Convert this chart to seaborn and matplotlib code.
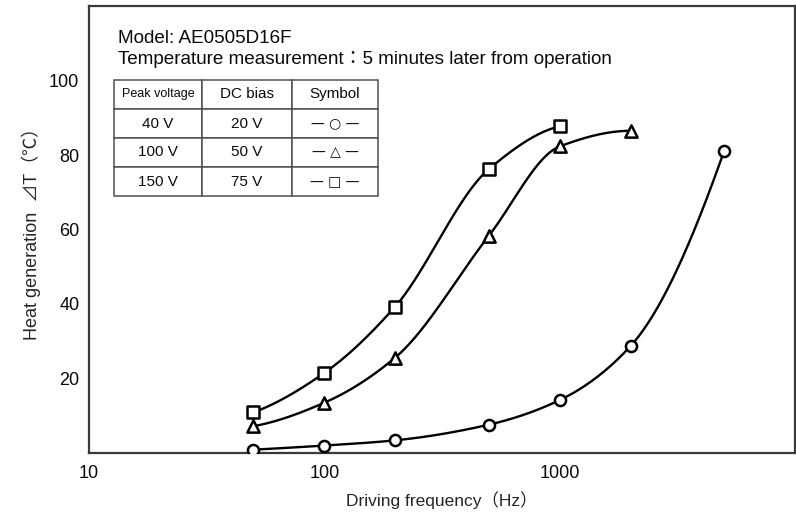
import numpy as np
import pandas as pd
import matplotlib
matplotlib.use("Agg")
import matplotlib.pyplot as plt
from matplotlib import font_manager
from matplotlib.ticker import NullLocator, FixedLocator
import seaborn as sns

# ---------------- data ----------------
freq_40v = [50, 100, 200, 500, 1000, 2000, 5000]
heat_40v = [0.9, 2.0, 3.4, 7.6, 14.2, 28.7, 81.1]

freq_100v = [50, 100, 200, 500, 1000, 2000]
heat_100v = [7.2, 13.5, 25.6, 58.3, 82.3, 86.5]

freq_150v = [50, 100, 200, 500, 1000]
heat_150v = [10.9, 21.5, 39.3, 76.2, 87.7]

series_names = ["40 V", "100 V", "150 V"]
series_markers = ["o", "^", "s"]

x_ticks = [10, 100, 1000]
x_tick_labels = ["10", "100", "1000"]
y_ticks = [20, 40, 60, 80, 100]
y_tick_labels = ["20", "40", "60", "80", "100"]

table_header = ["Peak voltage", "DC bias", "Symbol"]
table_peak = ["40 V", "100 V", "150 V"]
table_bias = ["20 V", "50 V", "75 V"]
table_symbol = ["— ○ —", "— △ —", "— □ —"]

title_line1 = "Model: AE0505D16F"
title_line2 = "Temperature measurement：5 minutes later from operation"
x_label = "Driving frequency（Hz）"
y_label = "Heat generation  ⊿T（℃）"

# ---------------- style ----------------
sns.set_theme(style="white")
plt.rcParams["font.family"] = ["Liberation Sans", "Noto Sans CJK JP", "DejaVu Sans"]
plt.rcParams["text.color"] = "#0a0a0a"


def pchip(xk, yk, xs):
    xk = np.asarray(xk, float)
    yk = np.asarray(yk, float)
    h = np.diff(xk)
    d = np.diff(yk) / h
    n = len(xk)
    m = np.zeros(n)
    for k in range(1, n - 1):
        if d[k - 1] * d[k] > 0:
            w1 = 2 * h[k] + h[k - 1]
            w2 = h[k] + 2 * h[k - 1]
            m[k] = (w1 + w2) / (w1 / d[k - 1] + w2 / d[k])

    def end(h0, h1, d0, d1):
        mm = ((2 * h0 + h1) * d0 - h0 * d1) / (h0 + h1)
        if np.sign(mm) != np.sign(d0):
            mm = 0.0
        elif np.sign(d0) != np.sign(d1) and abs(mm) > abs(3 * d0):
            mm = 3 * d0
        return mm

    m[0] = end(h[0], h[1], d[0], d[1])
    m[-1] = end(h[-1], h[-2], d[-1], d[-2])
    idx = np.clip(np.searchsorted(xk, xs) - 1, 0, n - 2)
    t = (xs - xk[idx]) / h[idx]
    h00 = 2 * t**3 - 3 * t**2 + 1
    h10 = t**3 - 2 * t**2 + t
    h01 = -2 * t**3 + 3 * t**2
    h11 = t**3 - t**2
    return (h00 * yk[idx] + h10 * h[idx] * m[idx] + h01 * yk[idx + 1]
            + h11 * h[idx] * m[idx + 1])


all_freq = [freq_40v, freq_100v, freq_150v]
all_heat = [heat_40v, heat_100v, heat_150v]

curve_rows = []
point_frames = []
for name, fx, hy in zip(series_names, all_freq, all_heat):
    lx = np.log10(fx)
    xs = np.linspace(lx[0], lx[-1], 300)
    ys = pchip(lx, hy, xs)
    curve_rows.append(pd.DataFrame({"freq": 10**xs, "heat": ys, "series": name}))
    point_frames.append(pd.DataFrame({"freq": fx, "heat": hy, "series": name}))
curves = pd.concat(curve_rows, ignore_index=True)

# ---------------- figure ----------------
W, H = 796, 513
fig = plt.figure(figsize=(W / 100, H / 100), dpi=100)
ax_l, ax_r, ax_t, ax_b = 89, 795, 6, 453
ax = fig.add_axes([ax_l / W, (H - ax_b) / H, (ax_r - ax_l) / W, (ax_b - ax_t) / H])
ax.set_xscale("log")

sns.lineplot(data=curves, x="freq", y="heat", units="series", estimator=None,
             sort=False, color="black", linewidth=1.7, ax=ax, legend=False)

marker_sizes = {"o": 64, "^": 78, "s": 64}
for pf, mk in zip(point_frames, series_markers):
    sns.scatterplot(data=pf, x="freq", y="heat", marker=mk, s=marker_sizes[mk],
                    color="white", edgecolor="black", linewidth=1.8,
                    zorder=5, ax=ax, legend=False)

ax.set_xlim(10, 10000)
ax.set_ylim(0, 120)
ax.xaxis.set_major_locator(FixedLocator(x_ticks))
ax.set_xticklabels(x_tick_labels)
ax.xaxis.set_minor_locator(NullLocator())
ax.set_yticks(y_ticks)
ax.set_yticklabels(y_tick_labels)
ax.tick_params(axis="both", which="major", direction="in", length=7, width=1.0,
               color="#888888", labelsize=13, labelcolor="#0a0a0a")
ax.tick_params(axis="x", pad=9)
ax.tick_params(axis="y", pad=7)

for side in ["left", "bottom", "top", "right"]:
    ax.spines[side].set_visible(True)
    ax.spines[side].set_color("#3a3a3a")
    ax.spines[side].set_linewidth(1.6)

ax.set_xlabel(x_label, fontsize=12.5, labelpad=6)
ax.set_ylabel(y_label, fontsize=13, labelpad=6)

# header texts
fig.text(118 / W, 1 - 43 / H, title_line1, fontsize=13.6, va="baseline", ha="left")
fig.text(118 / W, 1 - 64 / H, title_line2, fontsize=13.6, va="baseline", ha="left")

# ---------------- table ----------------
cell_text = [[p, b, s] for p, b, s in zip(table_peak, table_bias, table_symbol)]
tb_x0, tb_x1, tb_y0, tb_y1 = 114, 378, 80, 196
bbox = [(tb_x0 - ax_l) / (ax_r - ax_l), (ax_b - tb_y1) / (ax_b - ax_t),
        (tb_x1 - tb_x0) / (ax_r - ax_l), (tb_y1 - tb_y0) / (ax_b - ax_t)]
tbl = ax.table(cellText=cell_text, colLabels=table_header, cellLoc="center",
               colWidths=[88, 90, 86], bbox=bbox, zorder=6)
tbl.auto_set_font_size(False)

names = {f.name for f in font_manager.fontManager.ttflist}
if "Liberation Sans Narrow" in names:
    peak_fam, peak_size = ["Liberation Sans Narrow"], 10.3
else:
    peak_fam, peak_size = ["Liberation Sans"], 9.0

for (r, c), cell in tbl.get_celld().items():
    cell.set_edgecolor("#505050")
    cell.set_linewidth(1.1)
    cell.set_facecolor("white")
    txt = cell.get_text()
    txt.set_fontsize(11)
    txt.set_color("#0a0a0a")
    if r == 0 and c == 0:
        txt.set_fontfamily(peak_fam)
        txt.set_fontsize(peak_size)
    if r > 0 and c == 2:
        txt.set_fontfamily(["DejaVu Sans"])
        txt.set_fontsize(10)

fig.savefig("out.png", dpi=100)
